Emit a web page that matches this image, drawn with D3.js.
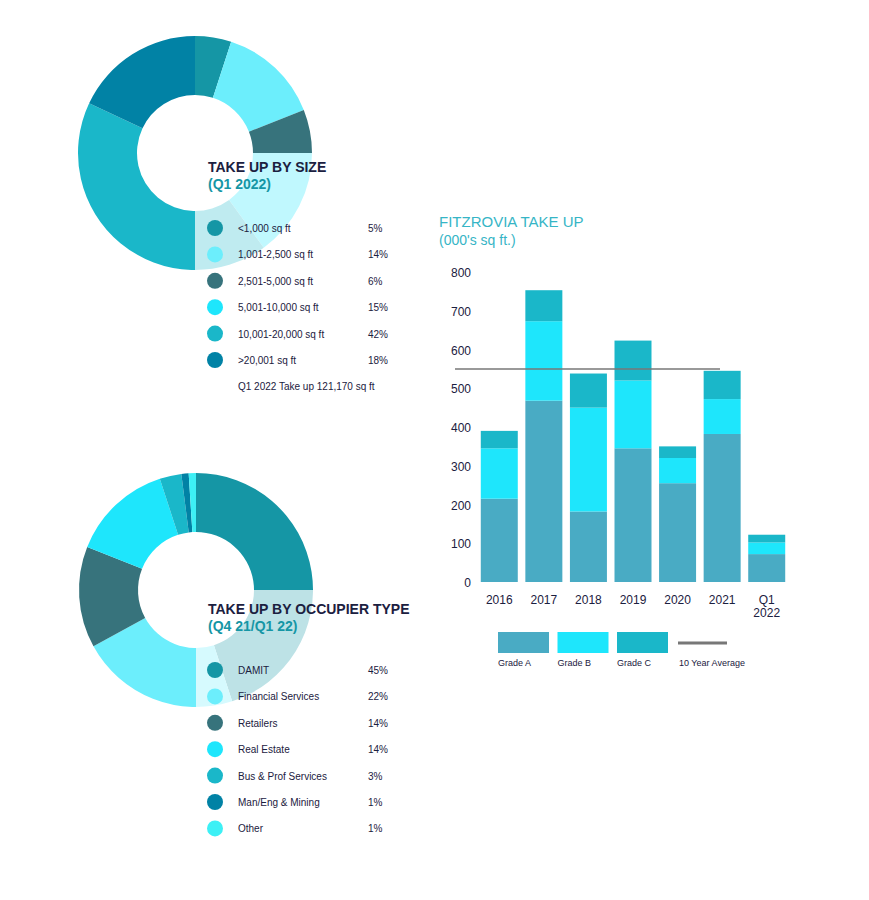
<!DOCTYPE html>
<html><head><meta charset="utf-8">
<script src="https://cdn.jsdelivr.net/npm/d3@7"></script>
<style>body{margin:0;background:#fff}text{font-family:"Liberation Sans",Arial,sans-serif}</style>
</head><body><svg id="c" width="869" height="900"></svg>
<script>
const sizeLabels=["<1,000 sq ft","1,001-2,500 sq ft","2,501-5,000 sq ft","5,001-10,000 sq ft","10,001-20,000 sq ft",">20,001 sq ft"];
const sizeValues=[5,14,6,15,42,18];
const sizeColors=["#1596a5","#6ceefc","#37737c","#1ee6fc","#1ab7c9","#0182a5"];
const occLabels=["DAMIT","Financial Services","Retailers","Real Estate","Bus & Prof Services","Man/Eng & Mining","Other"];
const occValues=[45,22,14,14,3,1,1];
const occColors=["#1596a5","#6ceefc","#37737c","#1ee6fc","#1ab7c9","#0182a5","#3df0f5"];
const years=["2016","2017","2018","2019","2020","2021","Q1 2022"];
const gradeA=[215,468,182,345,255,382,72];
const gradeB=[130,205,268,175,65,90,30];
const gradeC=[45,80,88,103,30,73,20];
const tenYearAvg=550;
const yTicks=[0,100,200,300,400,500,600,700,800];
const gradeNames=["Grade A","Grade B","Grade C"];
const gradeColors=["#49abc4","#1ee6fc","#1ab7c9"];

const svg=d3.select("#c");
function donut(cx,cy,vals,cols,labels,title,sub,ty,ly0,foot){
  const g=svg.append("g").attr("transform",`translate(${cx},${cy})`);
  const pie=d3.pie().sort(null)(vals);
  const arc=d3.arc().innerRadius(58).outerRadius(117);
  g.selectAll("path").data(pie).join("path").attr("d",arc).attr("fill",(d,i)=>cols[i]);
  svg.append("rect").attr("x",cx).attr("y",cy).attr("width",125).attr("height",125).attr("fill","#fff").attr("opacity",0.72);
  svg.append("text").attr("x",208).attr("y",ty).attr("font-size",14).attr("font-weight","bold").attr("fill","#1b2040").text(title);
  svg.append("text").attr("x",208).attr("y",ty+17).attr("font-size",14).attr("font-weight","bold").attr("fill","#1596a5").text(sub);
  labels.forEach((l,i)=>{
    const y=ly0+i*26.4;
    svg.append("circle").attr("cx",215).attr("cy",y).attr("r",8).attr("fill",cols[i]);
    svg.append("text").attr("x",238).attr("y",y+4).attr("font-size",10).attr("fill","#1b2040").text(l);
    svg.append("text").attr("x",368).attr("y",y+4).attr("font-size",10).attr("fill","#1b2040").text(vals[i]+"%");
  });
  if(foot) svg.append("text").attr("x",238).attr("y",ly0+labels.length*26.4+4).attr("font-size",10).attr("fill","#1b2040").text(foot);
}
donut(195,153,sizeValues,sizeColors,sizeLabels,"TAKE UP BY SIZE","(Q1 2022)",172,228,"Q1 2022 Take up 121,170 sq ft");
donut(196,590,occValues,occColors,occLabels,"TAKE UP BY OCCUPIER TYPE","(Q4 21/Q1 22)",614,670,null);

svg.append("text").attr("x",439).attr("y",227).attr("font-size",15).attr("fill","#36b5c6").text("FITZROVIA TAKE UP");
svg.append("text").attr("x",439).attr("y",245).attr("font-size",14).attr("fill","#36b5c6").text("(000's sq ft.)");
const x=d3.scaleBand().domain(years).range([479,787]).paddingInner(0.17).paddingOuter(0.04);
const y=d3.scaleLinear().domain([0,800]).range([582,272]);
yTicks.forEach(t=>svg.append("text").attr("x",471).attr("y",y(t)+5).attr("text-anchor","end").attr("font-size",12).attr("fill","#1b2040").text(t));
years.forEach((yr,i)=>{
  let base=0;
  [gradeA[i],gradeB[i],gradeC[i]].forEach((v,j)=>{
    svg.append("rect").attr("x",x(yr)).attr("width",x.bandwidth()).attr("y",y(base+v)).attr("height",y(base)-y(base+v)).attr("fill",gradeColors[j]);
    base+=v;
  });
  yr.split(" ").forEach((p,k)=>svg.append("text").attr("x",x(yr)+x.bandwidth()/2).attr("y",604+k*13).attr("text-anchor","middle").attr("font-size",12).attr("fill","#1b2040").text(p));
});
svg.append("line").attr("x1",455).attr("x2",720).attr("y1",y(tenYearAvg)).attr("y2",y(tenYearAvg)).attr("stroke","#777").attr("stroke-width",1.5);
gradeNames.forEach((n,i)=>{
  const lx=498+i*59.5;
  svg.append("rect").attr("x",lx).attr("y",632).attr("width",51).attr("height",21).attr("fill",gradeColors[i]);
  svg.append("text").attr("x",lx).attr("y",666).attr("font-size",9).attr("fill","#1b2040").text(n);
});
svg.append("line").attr("x1",678).attr("x2",727).attr("y1",643).attr("y2",643).attr("stroke","#777").attr("stroke-width",3);
svg.append("text").attr("x",679).attr("y",666).attr("font-size",9).attr("fill","#1b2040").text("10 Year Average");
</script></body></html>
